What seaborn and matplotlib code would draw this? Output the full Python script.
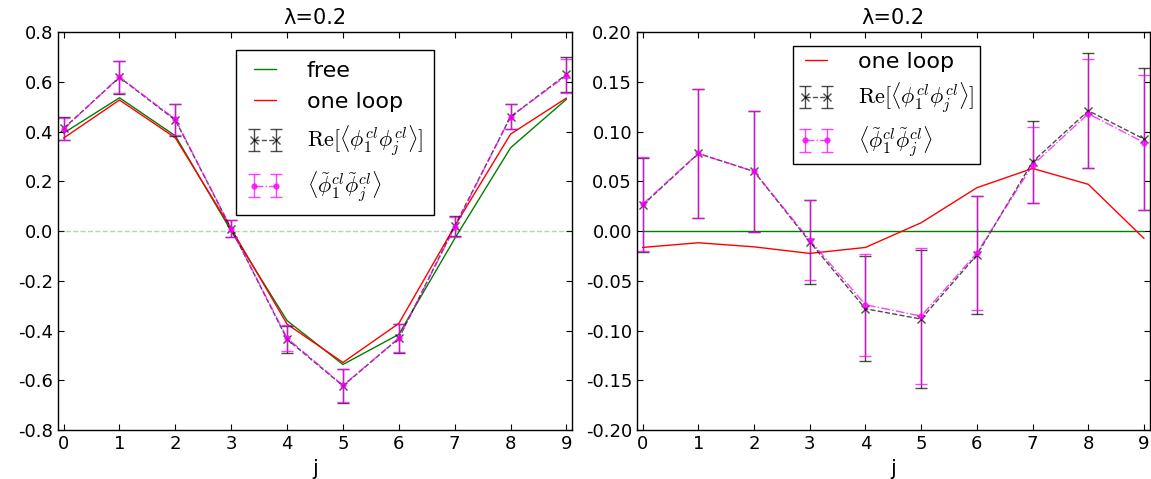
import matplotlib
matplotlib.use("Agg")
import matplotlib.pyplot as plt
import seaborn as sns
import pandas as pd

# data
j = list(range(10))

free_left = [0.394, 0.536, 0.383, 0.0, -0.36, -0.536, -0.415, -0.03, 0.335, 0.53]
loop_left = [0.374, 0.527, 0.375, 0.01, -0.374, -0.528, -0.371, 0.02, 0.39, 0.535]
re_left = [0.413, 0.618, 0.446, 0.01, -0.435, -0.622, -0.431, 0.02, 0.46, 0.63]
re_left_err = [0.045, 0.065, 0.063, 0.035, 0.054, 0.068, 0.058, 0.04, 0.05, 0.07]
tilde_left = [0.41, 0.62, 0.45, 0.01, -0.43, -0.62, -0.43, 0.015, 0.46, 0.625]
tilde_left_err = [0.045, 0.063, 0.062, 0.035, 0.053, 0.067, 0.057, 0.04, 0.05, 0.068]

free_right = [0.0] * 10
loop_right = [-0.0164, -0.0117, -0.0158, -0.0224, -0.0164, 0.0084, 0.0436, 0.063, 0.047, -0.0074]
re_right = [0.026, 0.078, 0.060, -0.0107, -0.078, -0.0884, -0.024, 0.0697, 0.121, 0.0925]
re_right_err = [0.047, 0.065, 0.061, 0.042, 0.053, 0.069, 0.059, 0.041, 0.058, 0.071]
tilde_right = [0.027, 0.078, 0.060, -0.009, -0.074, -0.0854, -0.022, 0.0663, 0.118, 0.089]
tilde_right_err = [0.047, 0.065, 0.061, 0.040, 0.051, 0.068, 0.057, 0.038, 0.055, 0.068]

sns.set_style("ticks")
plt.rcParams.update({
    "xtick.direction": "in", "ytick.direction": "in",
    "xtick.top": True, "ytick.right": True,
    "xtick.major.size": 4, "ytick.major.size": 4,
    "axes.linewidth": 1.0, "mathtext.fontset": "cm",
    "font.size": 13,
    "text.color": "black", "axes.labelcolor": "black",
    "xtick.color": "black", "ytick.color": "black",
    "axes.edgecolor": "black",
})
plt.rcParams["font.family"] = ["DejaVu Sans"]

fig = plt.figure(figsize=(11.51, 4.79), dpi=100)
ax1 = fig.add_axes([0.0504, 0.102, 0.4466, 0.831])
ax2 = fig.add_axes([0.5534, 0.102, 0.4454, 0.831])

re_label = r"$\mathrm{Re}[\langle\phi_1^{cl}\phi_j^{cl}\rangle]$"
tilde_label = r"$\langle\tilde{\phi}_1^{cl}\tilde{\phi}_j^{cl}\rangle$"


def panel(ax, free, loop, re, re_err, tilde, tilde_err, show_free_label):
    df = pd.DataFrame({"j": j, "free": free, "loop": loop})
    sns.lineplot(data=df, x="j", y="free", ax=ax, color="green", lw=1.0,
                 label="free" if show_free_label else None)
    sns.lineplot(data=df, x="j", y="loop", ax=ax, color="red", lw=1.0,
                 label="one loop")
    ax.errorbar(j, re, yerr=re_err, fmt="x--", color="black", ms=6,
                lw=1.0, capsize=4, elinewidth=1.0, alpha=0.7, label=re_label)
    ax.errorbar(j, tilde, yerr=tilde_err, fmt=".-.", color="magenta", ms=7,
                lw=1.0, capsize=4, elinewidth=1.0, alpha=0.75, label=tilde_label)
    ax.set_xlim(-0.1, 9.1)
    ax.set_xticks(j)
    ax.set_xlabel("j", fontsize=15)
    ax.set_ylabel("")
    ax.set_title("λ=0.2", fontsize=15)
    ax.tick_params(labelsize=13)


panel(ax1, free_left, loop_left, re_left, re_left_err, tilde_left, tilde_left_err, True)
ax1.axhline(0, color="green", alpha=0.3, ls="--", lw=1.0)
ax1.set_ylim(-0.8, 0.8)
ax1.set_yticks([-0.8, -0.6, -0.4, -0.2, 0.0, 0.2, 0.4, 0.6, 0.8])
ax1.set_yticklabels([f"{v:.1f}" for v in ax1.get_yticks()])
ax1.legend(loc="upper left", bbox_to_anchor=(0.346, 0.955), borderaxespad=0,
           numpoints=2, fontsize=16, fancybox=False, edgecolor="black",
           framealpha=1, handlelength=1.6, handletextpad=1.1, borderpad=0.5)

panel(ax2, free_right, loop_right, re_right, re_right_err, tilde_right, tilde_right_err, False)
ax2.set_ylim(-0.2, 0.2)
ax2.set_yticks([-0.2, -0.15, -0.1, -0.05, 0.0, 0.05, 0.1, 0.15, 0.2])
ax2.set_yticklabels([f"{v:.2f}" for v in ax2.get_yticks()])
ax2.legend(loc="upper left", bbox_to_anchor=(0.304, 0.965), borderaxespad=0,
           numpoints=2, fontsize=16, fancybox=False, edgecolor="black",
           framealpha=1, handlelength=1.6, handletextpad=1.1, borderpad=0.25,
           labelspacing=0.4)

fig.savefig("out.png", dpi=100)
